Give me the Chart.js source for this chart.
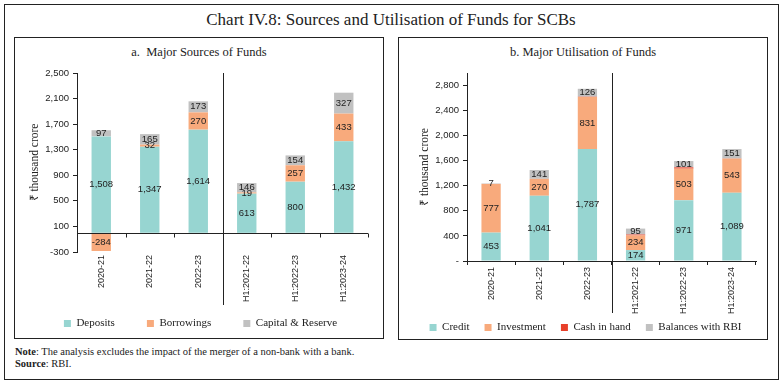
<!DOCTYPE html>
<html>
<head>
<meta charset="utf-8">
<script src="https://cdn.jsdelivr.net/npm/chart.js@4.4.1/dist/chart.umd.min.js"></script>
<style>
  body { margin: 0; width: 782px; height: 385px; background: #fff; position: relative; overflow: hidden; }
  .box { position: absolute; border: 1.5px solid #222; box-sizing: border-box; }
  .txt { position: absolute; font-family: "Liberation Serif", serif; color: #222; white-space: nowrap; }
  canvas { position: absolute; }
</style>
</head>
<body>
<div class="box" style="left:4px; top:4px; width:775px; height:376px;"></div>
<div class="txt" style="left:0; width:782px; top:10px; text-align:center; font-size:17px;">Chart IV.8: Sources and Utilisation of Funds for SCBs</div>

<div class="box" style="left:14px; top:37px; width:370px; height:302px;"></div>
<div class="txt" style="left:14px; width:370px; top:45px; text-align:center; font-size:12.5px;">a.&nbsp; Major Sources of Funds</div>

<div class="box" style="left:398px; top:37px; width:370px; height:303px;"></div>
<div class="txt" style="left:398px; width:370px; top:45px; text-align:center; font-size:12.5px;">b. Major Utilisation of Funds</div>

<div class="txt" style="left:15px; top:346px; font-size:10.5px;"><b>Note</b>: The analysis excludes the impact of the merger of a non-bank with a bank.</div>
<div class="txt" style="left:15px; top:358px; font-size:10.5px;"><b>Source</b>: RBI.</div>

<canvas id="left" width="368" height="303" style="left:15px; top:60px;"></canvas>
<canvas id="right" width="368" height="293" style="left:399px; top:60px;"></canvas>

<script>
const categories = ['2020-21', '2021-22', '2022-23', 'H1:2021-22', 'H1:2022-23', 'H1:2023-24'];

// a. sources
const deposits = [1508, 1347, 1614, 613, 800, 1432];
const borrowings = [-284, 32, 270, 19, 257, 433];
const capitalReserve = [97, 165, 173, 146, 154, 327];

// b. utilisation
const credit = [453, 1041, 1787, 174, 971, 1089];
const investment = [777, 270, 831, 234, 503, 543];
const cashInHand = [0, -12, 4, 14, 20, 3];
const balancesRbi = [7, 141, 126, 95, 101, 151];

const TEAL = '#97d5d1';
const ORANGE = '#f8aa7c';
const GREY = '#c1c1c1';
const RED = '#e8402a';
const INK = '#222';

const fmt = v => v.toLocaleString('en-US');

const barLabels = {
    id: 'barLabels',
    afterDatasetsDraw(chart) {
        const ctx = chart.ctx;
        ctx.save();
        ctx.font = '9.5px "Liberation Sans", sans-serif';
        ctx.fillStyle = INK;
        ctx.textAlign = 'center';
        ctx.textBaseline = 'middle';
        chart.data.datasets.forEach((ds, di) => {
            if (ds.noLabels) return;
            chart.getDatasetMeta(di).data.forEach((bar, i) => {
                ctx.fillText(fmt(ds.data[i]), bar.x, (bar.y + bar.base) / 2);
            });
        });
        ctx.restore();
    }
};

// vertical line between annual and half-year bars
const separator = {
    id: 'separator',
    afterDraw(chart, args, opts) {
        const x = chart.scales.x;
        const px = (x.getPixelForValue(2) + x.getPixelForValue(3)) / 2;
        const ctx = chart.ctx;
        ctx.save();
        ctx.strokeStyle = INK;
        ctx.lineWidth = 1;
        ctx.beginPath();
        ctx.moveTo(Math.round(px) + 0.5, chart.chartArea.top);
        ctx.lineTo(Math.round(px) + 0.5, chart.chartArea.bottom + opts.extra);
        ctx.stroke();
        ctx.restore();
    }
};

// zero line with category tick marks (left chart, axis labels sit at the bottom)
const zeroLine = {
    id: 'zeroLine',
    afterDatasetsDraw(chart) {
        const x = chart.scales.x, y = chart.scales.y;
        const py = Math.round(y.getPixelForValue(0)) + 0.5;
        const ctx = chart.ctx;
        ctx.save();
        ctx.strokeStyle = INK;
        ctx.lineWidth = 1;
        ctx.beginPath();
        ctx.moveTo(chart.chartArea.left, py);
        ctx.lineTo(chart.chartArea.right, py);
        for (let i = 0; i <= categories.length; i++) {
            const px = Math.round(x.left + (x.width * i) / categories.length) + 0.5;
            ctx.moveTo(px, py);
            ctx.lineTo(px, py + 4);
        }
        ctx.stroke();
        ctx.restore();
    }
};

// move the legend row up closer to the rotated labels, and a bit right
const legendShift = {
    id: 'legendShift',
    afterLayout(chart, args, opts) {
        chart.legend.top += opts.dy;
        chart.legend.bottom += opts.dy;
        chart.legend.left += opts.dx;
        chart.legend.right += opts.dx;
    }
};

function makeChart(id, datasets, yOpts, cfg) {
    return new Chart(document.getElementById(id), {
        type: 'bar',
        data: { labels: categories, datasets: datasets },
        options: {
            responsive: false,
            animation: false,
            layout: { padding: { top: 13, right: cfg.padRight, left: 0, bottom: 0 } },
            datasets: { bar: { categoryPercentage: 1, barPercentage: 0.4 } },
            plugins: {
                legend: {
                    position: 'bottom',
                    labels: {
                        font: { family: '"Liberation Serif", serif', size: 11 },
                        color: INK,
                        boxWidth: 7,
                        boxHeight: 7,
                        padding: cfg.legendPad
                    }
                },
                tooltip: { enabled: false },
                separator: { extra: cfg.sepExtra },
                legendShift: { dy: cfg.legendDy, dx: cfg.legendDx }
            },
            scales: {
                x: {
                    stacked: true,
                    border: { display: cfg.xBorder, color: INK },
                    grid: {
                        display: cfg.xBorder,
                        drawOnChartArea: false,
                        drawTicks: cfg.xBorder,
                        tickLength: 4,
                        color: INK
                    },
                    ticks: {
                        minRotation: 90,
                        maxRotation: 90,
                        padding: cfg.xPad,
                        color: INK,
                        font: { family: '"Liberation Sans", sans-serif', size: 9 }
                    },
                    afterFit: s => { s.height = cfg.xHeight; }
                },
                y: Object.assign({
                    stacked: true,
                    border: { display: true, color: INK },
                    grid: { drawOnChartArea: false, drawTicks: true, tickLength: 4, color: INK },
                    title: {
                        display: true,
                        text: '₹ thousand crore',
                        color: INK,
                        padding: { top: cfg.titlePad, bottom: 0 },
                        font: { family: '"Liberation Serif", serif', size: 11.5 }
                    },
                    afterFit: s => { s.width = cfg.yWidth; }
                }, yOpts)
            }
        },
        plugins: cfg.plugins
    });
}

makeChart('left', [
    { label: 'Deposits', data: deposits, backgroundColor: TEAL },
    { label: 'Borrowings', data: borrowings, backgroundColor: ORANGE },
    { label: 'Capital & Reserve', data: capitalReserve, backgroundColor: GREY }
], {
    min: -300,
    max: 2500,
    ticks: {
        stepSize: 400,
        padding: 4,
        color: INK,
        font: { family: '"Liberation Sans", sans-serif', size: 9.5 },
        callback: v => fmt(v)
    }
}, {
    padRight: 15, legendPad: 32, legendDy: -24, legendDx: 9, xHeight: 58, xPad: 3, yWidth: 62, titlePad: 13,
    xBorder: false, sepExtra: 53,
    plugins: [zeroLine, barLabels, separator, legendShift]
});

makeChart('right', [
    { label: 'Credit', data: credit, backgroundColor: TEAL },
    { label: 'Investment', data: investment, backgroundColor: ORANGE },
    { label: 'Cash in hand', data: cashInHand, backgroundColor: RED, noLabels: true },
    { label: 'Balances with RBI', data: balancesRbi, backgroundColor: GREY }
], {
    min: 0,
    max: 3000,
    afterBuildTicks: s => { s.ticks = s.ticks.filter(t => t.value % 400 === 0); },
    ticks: {
        stepSize: 400,
        padding: 4,
        color: INK,
        font: { family: '"Liberation Sans", sans-serif', size: 9.5 },
        callback: v => (v === 0 ? '-' : fmt(v))
    }
}, {
    padRight: 11, legendPad: 15, legendDy: -10, legendDx: 8, xHeight: 56, xPad: 2, yWidth: 68, titlePad: 19,
    xBorder: true, sepExtra: 52,
    plugins: [barLabels, separator, legendShift]
});
</script>
</body>
</html>
